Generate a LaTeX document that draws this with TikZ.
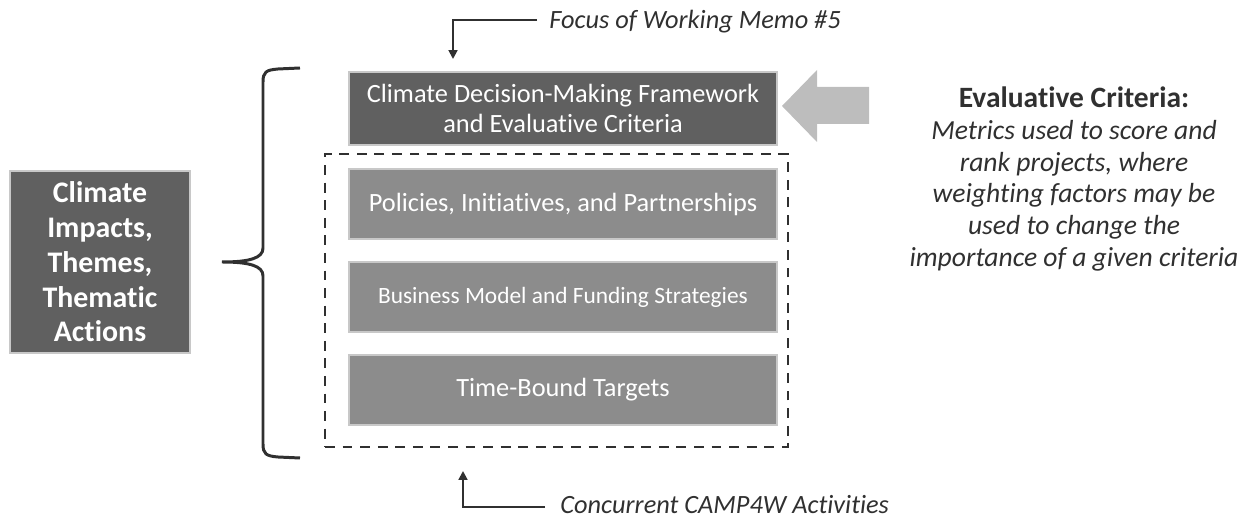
\documentclass[tikz,border=0pt]{standalone}
\usepackage{fontspec}
\setmainfont{Carlito}[Ligatures={NoCommon}]
\usepackage{tikz}
\usetikzlibrary{positioning, arrows.meta}

\definecolor{darkfill}{HTML}{606060}
\definecolor{midfill}{HTML}{8C8C8C}
\definecolor{edgegray}{HTML}{C8C8C8}
\definecolor{arrowgray}{HTML}{BDBDBD}
\definecolor{inkgray}{HTML}{303030}

\tikzset{
    darkbox/.style={draw=edgegray, line width=1.2pt, fill=darkfill, text=white, align=center, inner sep=0pt},
    stagebox/.style={draw=edgegray, line width=1.2pt, fill=midfill, text=white, align=center, inner sep=0pt,
        minimum width=8.56cm, minimum height=1.4cm},
    note/.style={text=inkgray, font=\itshape\fontsize{15}{18}\selectfont, inner sep=0pt},
    pointer/.style={draw=inkgray, line width=1.1pt, -{Triangle[length=5pt, width=5pt]}}
}

\begin{document}
\begin{tikzpicture}[x=0.02cm, y=-0.02cm]
        \useasboundingbox (0,0) rectangle (1250,519);
        % left theme box
        \node[darkbox, minimum width=3.6cm, minimum height=3.64cm,
              font=\bfseries\fontsize{17}{19.8}\selectfont] (themes) at (100,262)
              {Climate\\Impacts,\\Themes,\\Thematic\\Actions};
        % brace
        \draw[inkgray, line width=1.7pt] (300,68) -- (278,69) .. controls (266,70) and (263,72) .. (263,82)
            -- (263,248) .. controls (263,258) and (250,262) .. (222,262)
            .. controls (250,262) and (263,266) .. (263,276)
            -- (263,444) .. controls (263,454) and (266,456) .. (278,457) -- (300,458);
        % framework box
        \node[darkbox, minimum width=8.56cm, minimum height=1.46cm,
              font=\fontsize{15}{17.2}\selectfont] (frame) at (563,108.5)
              {Climate Decision-Making Framework\\and Evaluative Criteria};
        % concurrent activities
        \node[draw=inkgray, line width=1.6pt, dash pattern=on 5.6pt off 4.4pt,
              minimum width=9.26cm, minimum height=5.86cm] (camp) at (556.5,300.5) {};
        \node[stagebox, font=\fontsize{15}{18}\selectfont] (policies) at (563,204)
              {Policies, Initiatives, and Partnerships};
        \node[stagebox, font=\fontsize{13.3}{16}\selectfont] (business) at (563,297)
              {Business Model and Funding Strategies};
        \node[stagebox, font=\fontsize{15}{18}\selectfont] (targets) at (563,390)
              {Time-Bound Targets};
        % criteria arrow
        \fill[arrowgray] (869,87) -- (817,87) -- (817,70) -- (782,106) -- (817,142)
            -- (817,124) -- (869,124) -- cycle;
        \node[text=inkgray, align=center, font=\fontsize{15.7}{18.1}\selectfont] (criteria) at (1074,179)
              {\textbf{\fontsize{16.8}{18.1}\selectfont Evaluative Criteria:}\\
               \itshape Metrics used to score and\\
               \itshape rank projects, where\\
               \itshape weighting factors may be\\
               \itshape used to change the\\
               \itshape importance of a given criteria};
        % memo pointers
        \node[note, anchor=west] (memo) at (549,22) {Focus of Working Memo \#5};
        \coordinate (memoturn) at (453,20);
        \draw[pointer] (537,20) -- (memoturn) -- (453,59);
        \node[note, anchor=west] (concur) at (560,505) {Concurrent CAMP4W Activities};
        \coordinate (concurturn) at (463,507);
        \draw[pointer] (545,507) -- (concurturn) -- (463,471);
    \end{tikzpicture}
\end{document}
